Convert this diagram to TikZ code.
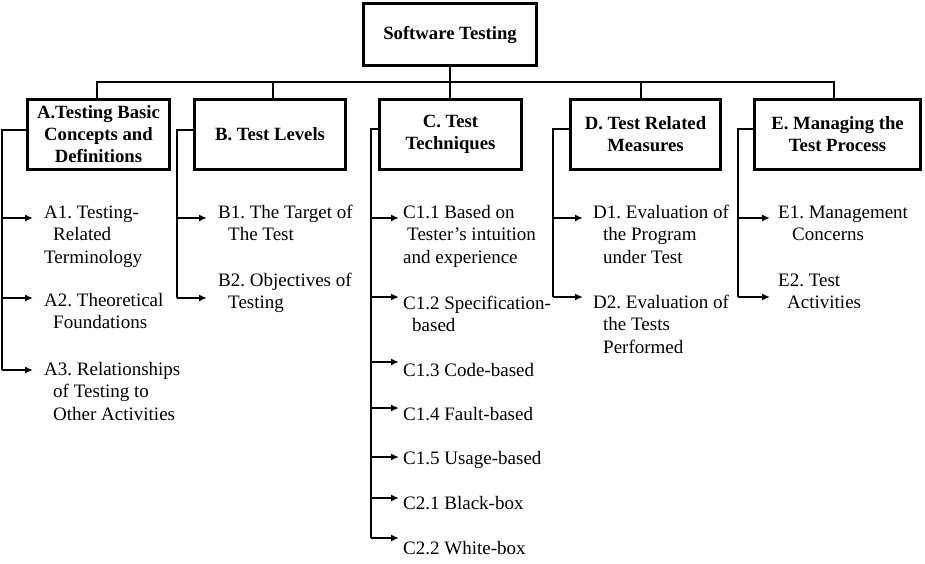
\documentclass[tikz,border=0pt]{standalone}
\usepackage{fontspec}
\setmainfont{Liberation Serif}
\usetikzlibrary{arrows.meta}
\newcommand\myind[1]{\hspace*{#1pt}}
\frenchspacing
\begin{document}
\frenchspacing
\begin{tikzpicture}[x=1pt,y=-1pt,
  box/.style={draw, line width=3pt, align=center, inner sep=0pt, minimum height=70pt,
    font=\fontsize{18.7}{22}\selectfont\bfseries\frenchspacing},
  item/.style={anchor=north west, align=left, inner sep=0pt,
    font=\fontsize{19}{22.5}\selectfont\frenchspacing},
  conn/.style={line width=1.4pt},
  arr/.style={line width=1.7pt, -{Latex[length=8pt,width=7pt]}}]
\useasboundingbox (0,0) rectangle (925,564);

% boxes
\node[box, minimum width=173pt, minimum height=62pt] (root) at (450,34.5) {Software Testing};
\node[box, minimum width=142pt] (A) at (98.5,134.5) {A.Testing Basic\\Concepts and\\Definitions};
\node[box, minimum width=151pt] (B) at (270,134.5) {B. Test Levels};
\node[box, minimum width=142pt] (C) at (450.5,134.5) {C. Test\\Techniques};
\node[box, minimum width=150pt] (D) at (645.5,134.5) {D. Test Related\\Measures};
\node[box, minimum width=166pt] (E) at (837.5,134.5) {E. Managing the\\Test Process};

% tree connectors
\coordinate (bar) at (0,82);
\draw[conn] ([xshift=-1.5pt]A.north) |- ([xshift=-3.5pt]E.north |- bar) -- ([xshift=-3.5pt]E.north);
\draw[conn] (root.south) -- (root.south |- C.north);
\draw[conn] ([xshift=3pt]B.north) -- ([xshift=3pt]B.north |- bar);
\draw[conn] ([xshift=-4.5pt]D.north) -- ([xshift=-4.5pt]D.north |- bar);

% items
\node[item] (a1) at (44,202.25) {\strut A1. Testing-\\\myind{9}Related\\Terminology};
\node[item] (a2) at (44,290.25) {\strut A2. Theoretical\\\myind{9}Foundations};
\node[item] (a3) at (44,359.25) {\strut A3. Relationships\\\myind{9}of Testing to\\\myind{9}Other Activities};

\node[item] (b1) at (218,202.25) {\strut B1. The Target of\\\myind{10}The Test};
\node[item] (b2) at (218,270.25) {\strut B2. Objectives of\\\myind{10}Testing};

\node[item] (c11) at (403,202.25) {\strut C1.1 Based on\\\myind{4}Tester's intuition\\and experience};
\node[item] (c12) at (403,293.25) {\strut C1.2 Specification-\\\myind{9}based};
\node[item] (c13) at (403,360.25) {\strut C1.3 Code-based};
\node[item] (c14) at (403,404.25) {\strut C1.4 Fault-based};
\node[item] (c15) at (403,448.25) {\strut C1.5 Usage-based};
\node[item] (c21) at (403,493.25) {\strut C2.1 Black-box};
\node[item] (c22) at (403,538.25) {\strut C2.2 White-box};

\node[item] (d1) at (593,202.25) {\strut D1. Evaluation of\\\myind{10}the Program\\\myind{10}under Test};
\node[item] (d2) at (593,292.25) {\strut D2. Evaluation of\\\myind{10}the Tests\\\myind{10}Performed};

\node[item] (e1) at (778,202.25) {\strut E1. Management\\\myind{14}Concerns};
\node[item] (e2) at (778,270.25) {\strut E2. Test\\\myind{9}Activities};

% junctions and arrow targets
\coordinate (jA) at (2,130);
\coordinate (jB) at (177,130);
\coordinate (jC) at (371,129);
\coordinate (jD) at (553,129);
\coordinate (jE) at (738,129);

\coordinate (ta1) at (33,218);
\coordinate (ta2) at (33,298);
\coordinate (ta3) at (33,370);
\coordinate (tb1) at (207,218);
\coordinate (tb2) at (207,298);
\coordinate (tc11) at (399,218);
\coordinate (tc12) at (399,297);
\coordinate (tc13) at (399,362);
\coordinate (tc14) at (399,408);
\coordinate (tc15) at (399,457);
\coordinate (tc21) at (399,498);
\coordinate (tc22) at (399,538);
\coordinate (td1) at (583,218);
\coordinate (td2) at (583,297);
\coordinate (te1) at (770,218);
\coordinate (te2) at (770,297);

\draw[conn] (A.west |- jA) -- (jA) -- (jA |- ta3);
\draw[conn] (B.west |- jB) -- (jB) -- (jB |- tb2);
\draw[conn] (C.west |- jC) -- (jC) -- (jC |- tc22);
\draw[conn] (D.west |- jD) -- (jD) -- (jD |- td2);
\draw[conn] (E.west |- jE) -- (jE) -- (jE |- te2);

\foreach \t in {ta1,ta2,ta3} \draw[arr] (jA |- \t) -- (\t);
\foreach \t in {tb1,tb2} \draw[arr] (jB |- \t) -- (\t);
\foreach \t in {tc11,tc12,tc13,tc14,tc15,tc21,tc22} \draw[arr] (jC |- \t) -- (\t);
\foreach \t in {td1,td2} \draw[arr] (jD |- \t) -- (\t);
\foreach \t in {te1,te2} \draw[arr] (jE |- \t) -- (\t);
\end{tikzpicture}
\end{document}
